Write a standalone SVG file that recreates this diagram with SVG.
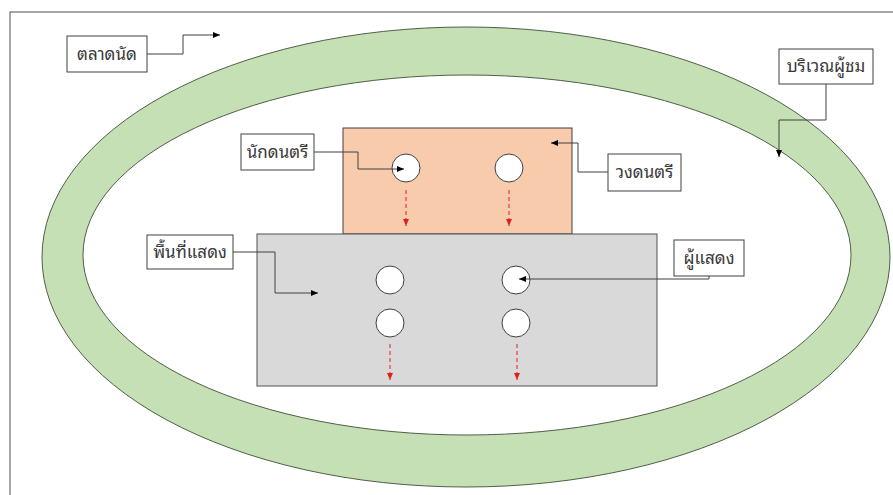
<svg xmlns="http://www.w3.org/2000/svg" width="893" height="495" viewBox="0 0 893 495">
<style>
.lbl rect{fill:#fff;stroke:#404040;stroke-width:1}
.lbl text{font-family:"Noto Sans Thai Looped","Noto Sans Thai","Tahoma","Noto Sans","DejaVu Sans",sans-serif;font-size:17px;fill:#3a3a3a;text-anchor:middle}
.con{fill:none;stroke:#404040;stroke-width:1}
.red{fill:none;stroke:#e02020;stroke-width:1;stroke-dasharray:4 3}
.dot{fill:#fff;stroke:#404040;stroke-width:1}
</style>
<defs>
<marker id="ah" markerWidth="8" markerHeight="8" refX="7" refY="4" orient="auto" markerUnits="userSpaceOnUse"><path d="M0,1 L7,4 L0,7 Z" fill="#000"/></marker>
<marker id="rh" markerWidth="8" markerHeight="8" refX="7" refY="4" orient="auto" markerUnits="userSpaceOnUse"><path d="M0,1 L7,4 L0,7 Z" fill="#e02020"/></marker>
</defs>
<rect x="0" y="0" width="893" height="495" fill="#fff"/>
<rect x="10" y="12" width="900" height="500" fill="none" stroke="#505050" stroke-width="1"/>
<g id="audience-ring">
<path fill-rule="evenodd" fill="#c5e0b4" stroke="#4f5f48" stroke-width="1" d="M42,257 a424,230 0 1,0 848,0 a424,230 0 1,0 -848,0 Z M83,255 a384,180 0 1,0 768,0 a384,180 0 1,0 -768,0 Z"/>
</g>
<g id="band-area"><rect x="343" y="128" width="229" height="106" fill="#f8cbad" stroke="#404040" stroke-width="1"/></g>
<g id="stage"><rect x="257" y="234" width="400" height="152" fill="#d9d9d9" stroke="#505050" stroke-width="1"/></g>
<g id="musicians">
<circle class="dot" cx="406" cy="168" r="14"/>
<circle class="dot" cx="509" cy="168" r="14"/>
</g>
<g id="performers">
<circle class="dot" cx="390" cy="280" r="14"/>
<circle class="dot" cx="516" cy="280" r="14"/>
<circle class="dot" cx="390" cy="323" r="14"/>
<circle class="dot" cx="516" cy="323" r="14"/>
</g>
<g id="connectors">
<path class="con" d="M147,54 H183 V35 H220" marker-end="url(#ah)"/>
<path class="con" d="M826,84 V120 H779 V157" marker-end="url(#ah)"/>
<path class="con" d="M314,152 H358 V169 H404" marker-end="url(#ah)"/>
<path class="con" d="M608,172 H578 V143 H551" marker-end="url(#ah)"/>
<path class="con" d="M233,252 H275 V293 H318" marker-end="url(#ah)"/>
<path class="con" d="M709,276 V279 H519" marker-end="url(#ah)"/>
<path class="red" d="M406,190 V226" marker-end="url(#rh)"/>
<path class="red" d="M509,190 V226" marker-end="url(#rh)"/>
<path class="red" d="M390,344 V380" marker-end="url(#rh)"/>
<path class="red" d="M517,344 V380" marker-end="url(#rh)"/>
</g>
<g id="label-market" class="lbl"><rect x="67" y="36" width="80" height="36"/><text x="107" y="60">ตลาดนัด</text></g>
<g id="label-audience" class="lbl"><rect x="779" y="49" width="94" height="35"/><text x="826" y="72">บริเวณผู้ชม</text></g>
<g id="label-musician" class="lbl"><rect x="241" y="134" width="73" height="36"/><text x="277.5" y="158">นักดนตรี</text></g>
<g id="label-band" class="lbl"><rect x="608" y="154" width="73" height="37"/><text x="644.5" y="178">วงดนตรี</text></g>
<g id="label-stage" class="lbl"><rect x="147" y="235" width="86" height="34"/><text x="190" y="258">พื้นที่แสดง</text></g>
<g id="label-performer" class="lbl"><rect x="674" y="240" width="70" height="36"/><text x="709" y="264">ผู้แสดง</text></g>
</svg>
